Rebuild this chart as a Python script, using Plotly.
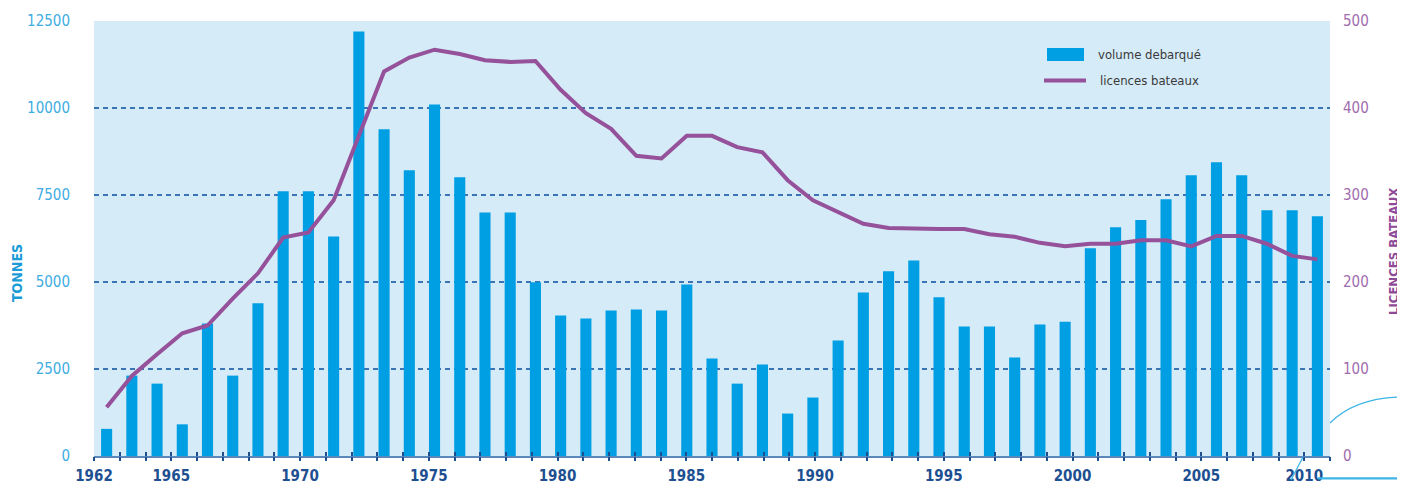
import plotly.graph_objects as go

# ---------------- data ----------------
years = list(range(1962, 2011))
volume_tonnes = [780, 2310, 2080, 910, 3810, 2310, 4390, 7610, 7610, 6310,
                 12200, 9390, 8210, 10100, 8010, 7000, 7000, 4990, 4040, 3950,
                 4180, 4210, 4180, 4930, 2800, 2080, 2630, 1220, 1680, 3320,
                 4700, 5310, 5620, 4560, 3720, 3720, 2830, 3780, 3860, 5970,
                 6570, 6780, 7380, 8070, 8440, 8070, 7060, 7060, 6890]
licences_bateaux = [56, 92, 117, 141, 150, 181, 210, 251, 257, 294,
                    368, 442, 458, 467, 462, 455, 453, 454, 421, 394,
                    376, 345, 342, 368, 368, 355, 349, 317, 294, 280,
                    267, 262, 261, 261, 261, 255, 252, 245, 241, 244,
                    244, 248, 248, 241, 253, 253, 244, 230, 226]
x_label_vals = [1962, 1965, 1970, 1975, 1980, 1985, 1990, 1995, 2000, 2005, 2009]
x_label_text = ["1962", "1965", "1970", "1975", "1980", "1985", "1990", "1995", "2000", "2005", "2010"]
left_ticks = [0, 2500, 5000, 7500, 10000, 12500]
left_tick_text = ["0", "2500", "5000", "7500", "10000", "12500"]
right_ticks = [0, 100, 200, 300, 400, 500]
right_tick_text = ["0", "100", "200", "300", "400", "500"]
series_names = ["volume debarqué", "licences bateaux"]
left_title = "TONNES"
right_title = "LICENCES BATEAUX"

# ---------------- style ----------------
W, H = 1405, 483
OFF = 8                       # page body margin
L, R, T, B = 86, 83, 13, 35
PW, PH = W - L - R, H - T - B
NARROW = "Liberation Sans Narrow, Arial Narrow, DejaVu Sans Condensed, sans-serif"
BAR_C = "#009FE3"
LINE_C = "#95519A"
BG_C = "#D5EBF8"
DECO_C = "#3DB4E5"


def px(x):
    """page pixel x -> paper fraction"""
    return (x - OFF - L) / PW


def py(y):
    """page pixel y -> paper fraction"""
    return (H - B - (y - OFF)) / PH


fig = go.Figure()
fig.add_trace(go.Bar(x=years, y=volume_tonnes, name=series_names[0],
                     marker=dict(color=BAR_C, line=dict(width=0)), showlegend=False))
fig.add_trace(go.Scatter(x=years, y=licences_bateaux, name=series_names[1], yaxis="y2",
                         mode="lines", line=dict(color=LINE_C, width=4),
                         showlegend=False))
# empty helper traces so the tick axes get drawn
fig.add_trace(go.Scatter(x=[years[0], years[-1]], y=[None, None], xaxis="x2",
                         showlegend=False, hoverinfo="skip"))
fig.add_trace(go.Scatter(x=[years[0], years[-1]], y=[None, None], xaxis="x3",
                         showlegend=False, hoverinfo="skip"))

tick_text_all = [x_label_text[x_label_vals.index(y)] if y in x_label_vals else "" for y in years[:-1]] + [""]

fig.update_layout(
    width=W, height=H,
    margin=dict(l=L, r=R, t=T, b=B, pad=0, autoexpand=False),
    paper_bgcolor="white",
    plot_bgcolor=BG_C,
    bargap=0.56,
    xaxis=dict(range=[years[0] - 0.5, years[-1] + 0.5], showticklabels=False, ticks="",
               showgrid=False, zeroline=False, showline=True, linecolor="#5B88BB",
               linewidth=2, automargin=False),
    xaxis2=dict(overlaying="x", anchor="y", side="bottom", range=[years[0], years[-1]],
                tickmode="array", tickvals=years, ticktext=tick_text_all,
                ticks="outside", ticklen=4, tickwidth=1.5, tickcolor="#1F4E8C",
                showgrid=False, zeroline=False, showline=False, ticklabelstandoff=2,
                automargin=False,
                tickfont=dict(family=NARROW, size=15, color="#1D4F91", weight="bold")),
    xaxis3=dict(overlaying="x", anchor="y", side="bottom", range=[years[0], years[-1]],
                tickmode="array", tickvals=years, showticklabels=False,
                ticks="inside", ticklen=4, tickwidth=1.5, tickcolor="#1F4E8C",
                showgrid=False, zeroline=False, showline=False, automargin=False),
    yaxis=dict(range=[0, 12500], tickmode="array", tickvals=left_ticks,
               ticktext=left_tick_text, ticks="",
               showgrid=True, gridcolor="#3A74B5", gridwidth=1.5, griddash="5px,4px",
               zeroline=False, showline=False, ticklabelstandoff=23, automargin=False,
               tickfont=dict(family=NARROW, size=15, color="#40ADE2")),
    yaxis2=dict(overlaying="y", side="right", range=[0, 500], tickmode="array",
                tickvals=right_ticks, ticktext=right_tick_text, ticks="",
                showgrid=False, zeroline=False, automargin=False,
                showline=False, ticklabelstandoff=12,
                tickfont=dict(family=NARROW, size=15, color="#A06CAE")),
)

annotations = [
    dict(text=left_title, x=px(17), y=py(273), xref="paper", yref="paper",
         textangle=-90, showarrow=False, xanchor="center", yanchor="middle",
         font=dict(family=NARROW, size=14, color="#1B9BD7", weight="bold")),
    dict(text=right_title, x=px(1394), y=py(252), xref="paper", yref="paper",
         textangle=-90, showarrow=False, xanchor="center", yanchor="middle",
         font=dict(family=NARROW, size=13, color="#8E4A97", weight="bold")),
    dict(text=series_names[0], x=px(1096), y=py(54), xref="paper", yref="paper",
         showarrow=False, xanchor="left", yanchor="middle",
         font=dict(family=NARROW, size=13, color="#3A3A3A")),
    dict(text=series_names[1], x=px(1098), y=py(80), xref="paper", yref="paper",
         showarrow=False, xanchor="left", yanchor="middle",
         font=dict(family=NARROW, size=13, color="#3A3A3A")),
]

shapes = [
    # custom legend swatches
    dict(type="rect", xref="paper", yref="paper", x0=px(1047), x1=px(1084),
         y0=py(61), y1=py(48), fillcolor=BAR_C, line=dict(width=0)),
    dict(type="line", xref="paper", yref="paper", x0=px(1044), x1=px(1086),
         y0=py(80.5), y1=py(80.5), line=dict(color=LINE_C, width=4)),
    # page decorations
    dict(type="line", xref="paper", yref="paper", x0=px(1303), y0=py(457),
         x1=px(1291), y1=py(480), line=dict(color=DECO_C, width=1.3)),
    dict(type="line", xref="paper", yref="paper", x0=px(1318), y0=py(478.3),
         x1=px(1405), y1=py(478.3), line=dict(color=DECO_C, width=2.2)),
    dict(type="path", xref="paper", yref="paper",
         path=f"M {px(1330)},{py(423)} Q {px(1356)},{py(397)} {px(1405)},{py(397)}",
         line=dict(color=DECO_C, width=1.3)),
]

fig.update_layout(annotations=annotations, shapes=shapes)
fig.write_html("out.html")
